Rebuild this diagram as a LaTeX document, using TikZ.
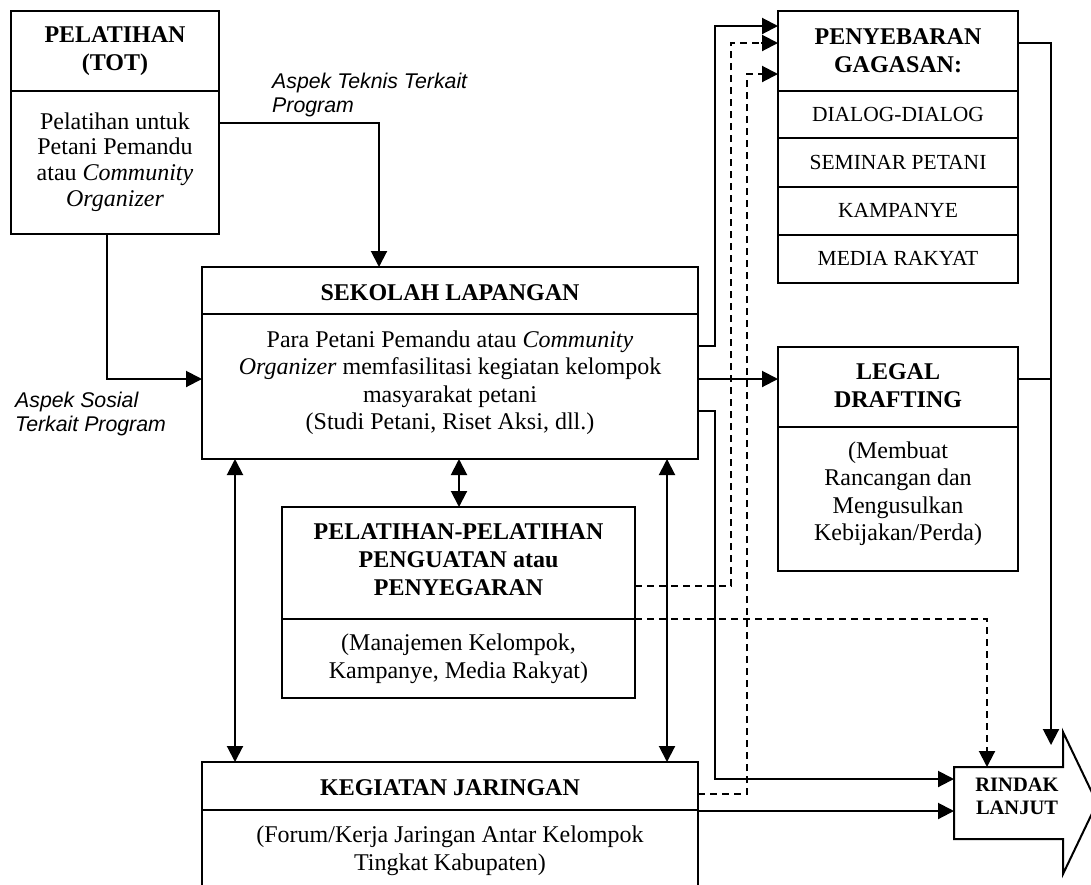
\documentclass[tikz,border=0pt]{standalone}
\usepackage{fontspec}
\setmainfont{Liberation Serif}
\newfontfamily\labfont{Liberation Sans}
\usetikzlibrary{arrows.meta}
\begin{document}
\begin{tikzpicture}[x=1pt,y=-1pt,
  box/.style={draw,line width=2pt,inner sep=0pt,outer sep=0pt,anchor=north west},
  divline/.style={line width=2pt},
  bodytxt/.style={align=center,inner sep=0pt,font=\fontsize{24}{27.5}\selectfont},
  titletxt/.style={align=center,inner sep=0pt,font=\fontsize{24}{28}\selectfont\bfseries},
  itemtxt/.style={inner sep=0pt,font=\fontsize{21.5}{24}\selectfont},
  labtxt/.style={align=left,anchor=west,inner sep=0pt,font=\labfont\itshape\fontsize{21.3}{23.5}\selectfont},
  conn/.style={line width=2pt},
  arr/.style={conn,-{Triangle[length=16pt,width=16pt]}},
  darr/.style={conn,{Triangle[length=16pt,width=16pt]}-{Triangle[length=16pt,width=16pt]}},
  dashline/.style={conn,dash pattern=on 7pt off 5pt}
]
\useasboundingbox (0,0) rectangle (1091,884);

% ---------- boxes ----------
\node[box,minimum width=208pt,minimum height=223pt] (tot) at (11,11) {};
\node[box,minimum width=496pt,minimum height=192pt] (sek) at (202,267) {};
\node[box,minimum width=353pt,minimum height=191pt] (pp) at (282,507) {};
\node[box,minimum width=496pt,minimum height=140pt] (keg) at (202,762) {};
\node[box,minimum width=240pt,minimum height=272pt] (peny) at (778,11) {};
\node[box,minimum width=240pt,minimum height=224pt] (legal) at (778,347) {};
\node[inner sep=0pt,outer sep=0pt,anchor=north west,minimum width=109pt,minimum height=72pt] (rindak) at (954,767) {};

% dividers
\coordinate (dTot) at (0,91);
\draw[divline] (tot.west |- dTot) -- (tot.east |- dTot);
\coordinate (dSek) at (0,314);
\draw[divline] (sek.west |- dSek) -- (sek.east |- dSek);
\coordinate (dPP) at (0,619);
\draw[divline] (pp.west |- dPP) -- (pp.east |- dPP);
\coordinate (dKeg) at (0,810);
\draw[divline] (keg.west |- dKeg) -- (keg.east |- dKeg);
\coordinate (dP1) at (0,91);
\coordinate (dP2) at (0,138);
\coordinate (dP3) at (0,187);
\coordinate (dP4) at (0,235);
\draw[divline] (peny.west |- dP1) -- (peny.east |- dP1);
\draw[divline] (peny.west |- dP2) -- (peny.east |- dP2);
\draw[divline] (peny.west |- dP3) -- (peny.east |- dP3);
\draw[divline] (peny.west |- dP4) -- (peny.east |- dP4);
\coordinate (dLeg) at (0,427);
\draw[divline] (legal.west |- dLeg) -- (legal.east |- dLeg);

% RINDAK LANJUT arrow shape
\draw[line width=2pt,fill=white] (rindak.north west) -- (rindak.north east) -- ++(0,-35) -- (1097,803) -- (1063,874) -- (rindak.south east) -- (rindak.south west) -- cycle;

% ---------- texts ----------
\node[titletxt] (totT) at (115,51) {PELATIHAN\\(TOT)};
\node[bodytxt,font=\fontsize{24}{25.7}\selectfont] (totB) at (115,162) {Pelatihan untuk\\Petani Pemandu\\atau \textit{Community}\\\textit{Organizer}};
\node[titletxt] (sekT) at (450,293) {SEKOLAH LAPANGAN};
\node[bodytxt] (sekB) at (450,382.5) {Para Petani Pemandu atau \textit{Community}\\\textit{Organizer} memfasilitasi kegiatan kelompok\\masyarakat petani\\(Studi Petani, Riset Aksi, dll.)};
\node[titletxt] (ppT) at (458.5,560) {PELATIHAN-PELATIHAN\\PENGUATAN atau\\PENYEGARAN};
\node[bodytxt,font=\fontsize{24}{28}\selectfont] (ppB) at (458.5,659) {(Manajemen Kelompok,\\Kampanye, Media Rakyat)};
\node[titletxt] (kegT) at (450,788) {KEGIATAN JARINGAN};
\node[bodytxt] (kegB) at (450,850.5) {(Forum/Kerja Jaringan Antar Kelompok\\Tingkat Kabupaten)};
\node[titletxt] (penyT) at (898,51) {PENYEBARAN\\GAGASAN:};
\node[itemtxt] (i1) at (898,114) {DIALOG-DIALOG};
\node[itemtxt] (i2) at (898,162) {SEMINAR PETANI};
\node[itemtxt] (i3) at (898,210) {KAMPANYE};
\node[itemtxt] (i4) at (898,258) {MEDIA RAKYAT};
\node[titletxt] (legT) at (898,386) {LEGAL\\DRAFTING};
\node[bodytxt] (legB) at (898,493.5) {(Membuat\\Rancangan dan\\Mengusulkan\\Kebijakan/Perda)};
\node[titletxt,font=\fontsize{20.5}{23}\selectfont\bfseries] (rinT) at (1017,796.5) {RINDAK\\LANJUT};
\node[labtxt] (labTek) at (272,95) {Aspek Teknis Terkait\\Program};
\node[labtxt] (labSos) at (15,414) {Aspek Sosial\\Terkait Program};

% ---------- connectors ----------
\coordinate (cT) at (379,123);
\draw[arr] (tot.east |- cT) -- (cT) -- (sek.north -| cT);
\coordinate (cS) at (107,379);
\draw[arr] (tot.south -| cS) -- (cS) -- (sek.west |- cS);
\coordinate (cA1) at (715,346);
\coordinate (cA2) at (715,26);
\draw[arr] (sek.east |- cA1) -- (cA1) -- (cA2) -- (peny.west |- cA2);
\coordinate (cL) at (0,379);
\draw[arr] (sek.east |- cL) -- (legal.west |- cL);
\coordinate (cR1) at (715,411);
\coordinate (cR2) at (715,779);
\draw[arr] (sek.east |- cR1) -- (cR1) -- (cR2) -- (rindak.west |- cR2);
\coordinate (cV1) at (235,0);
\coordinate (cV2) at (459,0);
\coordinate (cV3) at (667,0);
\draw[darr] (sek.south -| cV1) -- (keg.north -| cV1);
\draw[darr] (sek.south -| cV2) -- (pp.north -| cV2);
\draw[darr] (sek.south -| cV3) -- (keg.north -| cV3);
\coordinate (cD1) at (731,586);
\coordinate (cD2) at (731,43);
\draw[dashline] (pp.east |- cD1) -- (cD1) -- (cD2) -- ([xshift=-17pt]peny.west |- cD2);
\draw[arr] ([xshift=-17pt]peny.west |- cD2) -- (peny.west |- cD2);
\coordinate (cE1) at (987,619);
\draw[dashline] (pp.east |- cE1) -- (cE1) -- ([yshift=17pt]rindak.north -| cE1);
\draw[arr] ([yshift=17pt]rindak.north -| cE1) -- (rindak.north -| cE1);
\coordinate (cF1) at (747,794);
\coordinate (cF2) at (747,74);
\draw[dashline] (keg.east |- cF1) -- (cF1) -- (cF2) -- ([xshift=-17pt]peny.west |- cF2);
\draw[arr] ([xshift=-17pt]peny.west |- cF2) -- (peny.west |- cF2);
\coordinate (cG) at (0,811);
\draw[arr] (keg.east |- cG) -- (rindak.west |- cG);
\coordinate (cH1) at (1051,43);
\coordinate (cH2) at (1051,745);
\draw[arr] (peny.east |- cH1) -- (cH1) -- (cH2);
\draw[conn] (legal.east |- cL) -- (cH1 |- cL);
\end{tikzpicture}
\end{document}
